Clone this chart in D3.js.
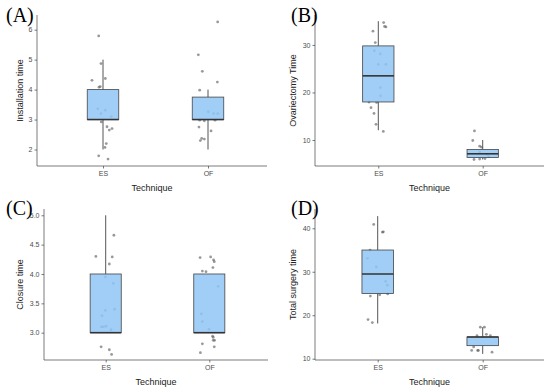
<!DOCTYPE html>
<html><head><meta charset="utf-8">
<script src="https://cdn.jsdelivr.net/npm/d3@7"></script>
<style>body{margin:0;background:#fff}svg{display:block}</style>
</head><body>
<script>
const categories = ["ES", "OF"];

// Box stats: [lower whisker, Q1, median, Q3, upper whisker]
const boxA = {ES: [2, 3, 3, 4, 5], OF: [2, 3, 3, 3.75, 4]};
const boxB = {ES: [12.05, 18.0, 23.5, 29.8, 35.0], OF: [5.9, 6.3, 7.1, 8.0, 10.0]};
const boxC = {ES: [3, 3, 3, 4, 5], OF: [3, 3, 3, 4, 4]};
const boxD = {ES: [18.1, 25, 29.5, 35, 42.8], OF: [11.1, 13, 15, 15, 17.25]};

// Jittered observations: values and horizontal jitter (category units)
const ptsA_ES = [5.79, 4.87, 4.31, 4.37, 4.08, 4.10, 3.36, 3.31, 3.20, 3.10, 2.92, 2.76, 2.70, 2.65, 2.20, 2.07, 1.79, 1.68];
const jitA_ES = [-0.041, -0.019, -0.105, 0.022, -0.038, -0.026, -0.05, 0.022, -0.019, 0.079, -0.016, 0.038, 0.086, 0.06, 0.031, 0.019, -0.041, 0.048];
const ptsA_OF = [6.26, 5.16, 4.61, 4.25, 3.98, 3.26, 3.20, 3.20, 2.98, 2.96, 2.98, 2.75, 2.62, 2.37, 2.35, 2.30];
const jitA_OF = [0.092, -0.092, -0.054, 0.089, -0.079, 0.003, 0.092, 0.054, -0.079, -0.035, 0.067, -0.086, 0.029, -0.06, -0.035, -0.073];

const ptsB_ES = [34.7, 33.8, 33.9, 32.9, 30.5, 28.8, 28.1, 25.9, 25.9, 21.0, 19.3, 18.0, 17.9, 16.8, 15.6, 13.3, 11.8];
const jitB_ES = [0.051, 0.073, 0.06, -0.051, -0.029, -0.038, 0.019, 0, 0.073, 0.019, 0.022, -0.089, -0.016, -0.07, -0.041, -0.022, 0.048];
const ptsB_OF = [11.9, 9.9, 8.7, 8.5, 7.5, 7.0, 6.5, 6.1, 6.0, 5.9];
const jitB_OF = [-0.079, -0.095, -0.029, -0.01, -0.03, 0.04, 0.057, 0.022, -0.029, -0.083];

const ptsC_ES = [4.30, 4.66, 4.29, 4.17, 3.95, 3.84, 3.40, 3.38, 3.29, 3.10, 3.11, 3.10, 3.05, 2.76, 2.71, 2.63];
const jitC_ES = [-0.095, 0.079, 0.063, 0.035, -0.003, 0.073, 0.086, -0.003, -0.035, -0.022, 0.003, -0.041, 0.051, -0.044, 0.035, 0.057];
const ptsC_OF = [4.28, 4.29, 4.24, 4.21, 4.11, 4.05, 4.04, 3.79, 3.32, 3.19, 3.06, 2.94, 2.92, 2.87, 2.87, 2.81, 2.76, 2.66];
const jitC_OF = [-0.089, 0.013, 0.041, 0.048, 0.035, -0.067, -0.032, 0.086, -0.076, -0.067, -0.003, 0.032, 0.038, 0.051, 0.038, -0.067, 0.048, -0.086];

const ptsD_ES = [40.9, 39.1, 39.2, 35.0, 33.1, 31.1, 27.8, 26.9, 24.4, 24.7, 24.9, 19.0, 18.3];
const jitD_ES = [-0.038, 0.045, 0.054, -0.073, -0.098, -0.013, 0.076, 0.092, -0.07, 0.019, 0.095, -0.092, -0.051];
const ptsD_OF = [17.25, 17.25, 15.3, 15.6, 15.3, 12.7, 11.9, 11.9, 11.9, 11.5];
const jitD_OF = [-0.022, 0.016, -0.054, 0.035, 0.073, -0.086, -0.105, -0.048, -0.041, 0.089];

const ticksA = [2, 3, 4, 5, 6];
const ticksB = [10, 20, 30];
const ticksC = [3.0, 3.5, 4.0, 4.5, 5.0];
const ticksD = [10, 20, 30, 40];

const panels = [
  {label: "(A)", ytitle: "Installation time", box: boxA, pts: {ES: [ptsA_ES, jitA_ES], OF: [ptsA_OF, jitA_OF]}, ticks: ticksA, fmt: d3.format("d"),
   domain: [1.45, 6.49], x0: 37, x1: 267, y0: 15, y1: 166, cx: [103, 208], lx: 6, ly: 22, ytx: 20},
  {label: "(B)", ytitle: "Ovariectomy Time", box: boxB, pts: {ES: [ptsB_ES, jitB_ES], OF: [ptsB_OF, jitB_OF]}, ticks: ticksB, fmt: d3.format("d"),
   domain: [4.53, 36.3], x0: 315, x1: 544, y0: 15, y1: 166, cx: [378.3, 482.7], lx: 291, ly: 22, ytx: 293},
  {label: "(C)", ytitle: "Closure time", box: boxC, pts: {ES: [ptsC_ES, jitC_ES], OF: [ptsC_OF, jitC_OF]}, ticks: ticksC, fmt: d3.format(".1f"),
   domain: [2.535, 5.107], x0: 44, x1: 268, y0: 209, y1: 360, cx: [105.7, 209.3], lx: 6, ly: 215, ytx: 20},
  {label: "(D)", ytitle: "Total surgery time", box: boxD, pts: {ES: [ptsD_ES, jitD_ES], OF: [ptsD_OF, jitD_OF]}, ticks: ticksD, fmt: d3.format("d"),
   domain: [9.7, 44.44], x0: 315, x1: 544, y0: 209, y1: 360, cx: [377.7, 482.7], lx: 291, ly: 215, ytx: 293}
];

const svg = d3.select("body").append("svg").attr("width", 550).attr("height", 392);
const font = "'Liberation Sans', Arial, Helvetica, sans-serif";

panels.forEach(p => {
  const g = svg.append("g");
  const step = p.cx[1] - p.cx[0];
  const x = d3.scalePoint().domain(categories).range([p.cx[0] - 0.6 * step, p.cx[1] + 0.6 * step]).padding(0.6);
  const y = d3.scaleLinear().domain(p.domain).range([p.y1, p.y0]);
  const hw = step * 0.15;

  // jittered points
  categories.forEach(c => {
    const [vals, jit] = p.pts[c];
    g.append("g").selectAll("circle").data(vals).join("circle")
      .attr("cx", (d, i) => x(c) + jit[i] * step)
      .attr("cy", d => y(d))
      .attr("r", 1.4)
      .attr("fill", "#555")
      .attr("fill-opacity", 0.6);
  });

  // boxplots
  categories.forEach(c => {
    const s = p.box[c];
    const cx = x(c);
    g.append("line").attr("x1", cx).attr("x2", cx).attr("y1", y(s[3])).attr("y2", y(s[4]))
      .attr("stroke", "#555").attr("stroke-width", 1);
    g.append("line").attr("x1", cx).attr("x2", cx).attr("y1", y(s[0])).attr("y2", y(s[1]))
      .attr("stroke", "#555").attr("stroke-width", 1);
    g.append("rect").attr("x", cx - hw).attr("width", 2 * hw)
      .attr("y", y(s[3])).attr("height", Math.max(0.5, y(s[1]) - y(s[3])))
      .attr("fill", "#90c6f5").attr("fill-opacity", 0.85)
      .attr("stroke", "#444").attr("stroke-width", 0.8);
    g.append("line").attr("x1", cx - hw).attr("x2", cx + hw).attr("y1", y(s[2])).attr("y2", y(s[2]))
      .attr("stroke", "#333").attr("stroke-width", 1.6);
  });

  // axes lines
  g.append("line").attr("x1", p.x0).attr("x2", p.x0).attr("y1", p.y0).attr("y2", p.y1)
    .attr("stroke", "#444").attr("stroke-width", 0.7);
  g.append("line").attr("x1", p.x0).attr("x2", p.x1).attr("y1", p.y1).attr("y2", p.y1)
    .attr("stroke", "#444").attr("stroke-width", 0.7);

  const ya = g.append("g").attr("transform", `translate(${p.x0},0)`)
    .call(d3.axisLeft(y).tickValues(p.ticks).tickFormat(p.fmt).tickSize(2.5).tickPadding(2));
  ya.select(".domain").remove();
  ya.selectAll("line").attr("stroke", "#444").attr("stroke-width", 0.7);
  ya.selectAll("text").attr("fill", "#4d4d4d").style("font-family", font).style("font-size", "7px");

  const xa = g.append("g").attr("transform", `translate(0,${p.y1})`)
    .call(d3.axisBottom(x).tickSize(2.5).tickPadding(3));
  xa.select(".domain").remove();
  xa.selectAll("line").attr("stroke", "#444").attr("stroke-width", 0.7);
  xa.selectAll("text").attr("fill", "#4d4d4d").style("font-family", font).style("font-size", "7px");

  // titles
  g.append("text").attr("x", (p.x0 + p.x1) / 2).attr("y", p.y1 + 25).attr("text-anchor", "middle")
    .style("font-family", font).style("font-size", "9px").attr("fill", "#222").text("Technique");
  g.append("text").attr("transform", `translate(${p.ytx + 3},${(p.y0 + p.y1) / 2}) rotate(-90)`)
    .attr("text-anchor", "middle")
    .style("font-family", font).style("font-size", "9px").attr("fill", "#222").text(p.ytitle);

  g.append("text").attr("x", p.lx).attr("y", p.ly).style("font-family", "'Liberation Serif', 'Times New Roman', serif")
    .style("font-size", "20px").attr("fill", "#000").text(p.label);
});
</script>
</body></html>
